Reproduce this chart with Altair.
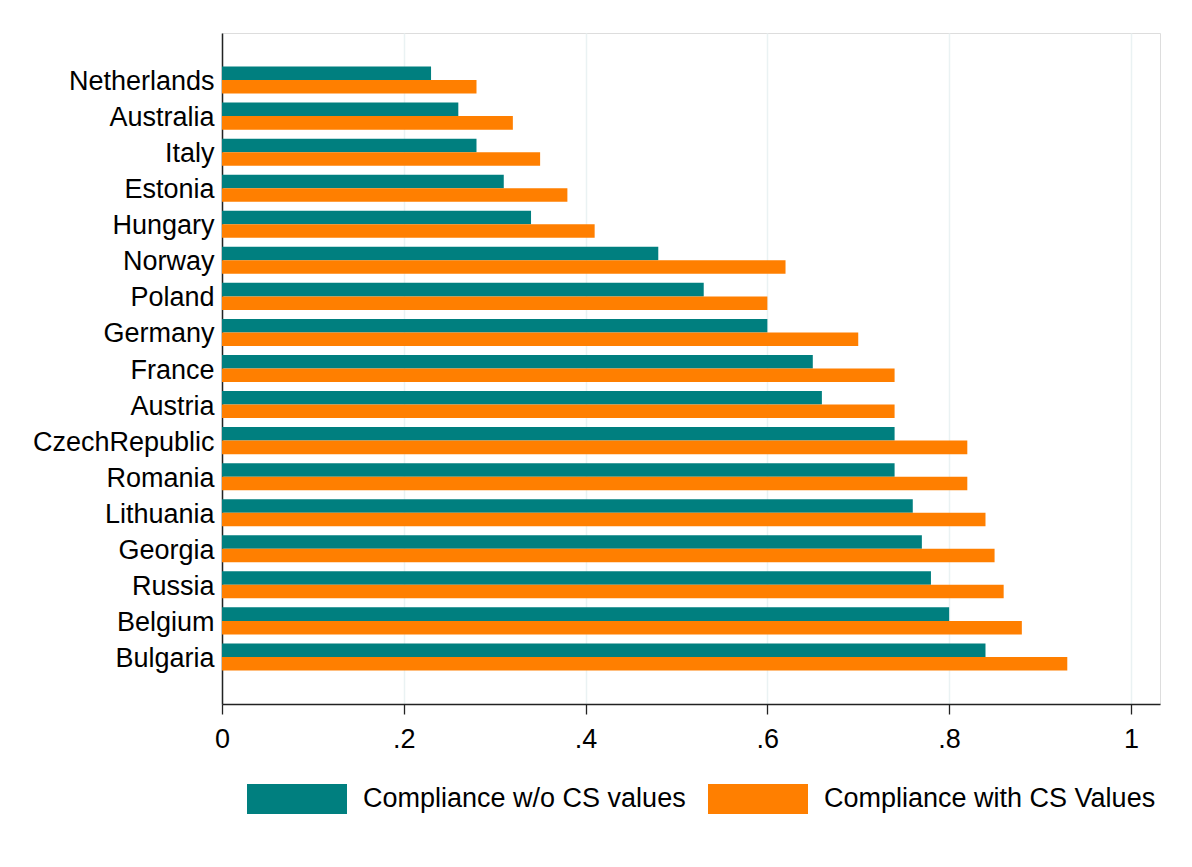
import altair as alt
import pandas as pd

countries = ["Netherlands", "Australia", "Italy", "Estonia", "Hungary", "Norway",
             "Poland", "Germany", "France", "Austria", "CzechRepublic", "Romania",
             "Lithuania", "Georgia", "Russia", "Belgium", "Bulgaria"]
without_cs = [0.23, 0.26, 0.28, 0.31, 0.34, 0.48, 0.53, 0.60, 0.65, 0.66, 0.74, 0.74,
              0.76, 0.77, 0.78, 0.80, 0.84]
with_cs = [0.28, 0.32, 0.35, 0.38, 0.41, 0.62, 0.60, 0.70, 0.74, 0.74, 0.82, 0.82,
           0.84, 0.85, 0.86, 0.88, 0.93]
series = ["Compliance w/o CS values", "Compliance with CS Values"]
colors = ["#007F7F", "#FF7F00"]
x_ticks = [0, 0.2, 0.4, 0.6, 0.8, 1.0]

rows = []
for c, a, b in zip(countries, without_cs, with_cs):
    rows.append({"country": c, "series": series[0], "value": a})
    rows.append({"country": c, "series": series[1], "value": b})
df = pd.DataFrame(rows)

FONT = "Liberation Sans"
FS = 27

chart = alt.Chart(df).mark_bar().encode(
    x=alt.X("value:Q",
            scale=alt.Scale(domain=[0, 1.032], nice=False, zero=True),
            axis=alt.Axis(title=None, values=x_ticks,
                          labelExpr="datum.value == 0 ? '0' : (datum.value >= 0.999 ? '1' : replace(format(datum.value, '.1f'), '0.', '.'))",
                          grid=True, gridColor="#EAF2F3", gridWidth=1.5,
                          domainColor="#222222", domainWidth=1.3,
                          tickColor="#222222", tickSize=10, tickWidth=1.3,
                          labelFlush=False,
                          labelPadding=12, labelFontSize=FS, labelFont=FONT,
                          labelColor="#000000")),
    y=alt.Y("country:N", sort=countries,
            scale=alt.Scale(paddingInner=0.25, paddingOuter=0.93),
            axis=alt.Axis(title=None, ticks=False, grid=False,
                          domainColor="#222222", domainWidth=1.5,
                          labelPadding=8, labelFontSize=FS, labelFont=FONT,
                          labelColor="#000000", labelLimit=300,
                          labelOffset=2,
                          minExtent=217, maxExtent=217)),
    yOffset=alt.YOffset("series:N", sort=series,
                        scale=alt.Scale(paddingInner=0, paddingOuter=0)),
    color=alt.Color("series:N", sort=series,
                    scale=alt.Scale(domain=series, range=colors),
                    legend=alt.Legend(title=None, orient="none",
                                      legendX=25, legendY=716,
                                      direction="horizontal", columns=2,
                                      symbolType="M-1,-0.3H1V0.3H-1Z",
                                      symbolSize=10000, symbolStrokeWidth=0,
                                      labelFontSize=FS, labelFont=FONT,
                                      labelColor="#000000", labelOffset=16,
                                      columnPadding=22, padding=0,
                                      labelLimit=400)),
).properties(
    width=938, height=671,
    padding={"top": 33, "left": 5, "right": 5, "bottom": 5},
).configure_view(stroke=None).configure(background="white")

chart.save("out.html", embed_options={"renderer": "svg", "actions": False})
